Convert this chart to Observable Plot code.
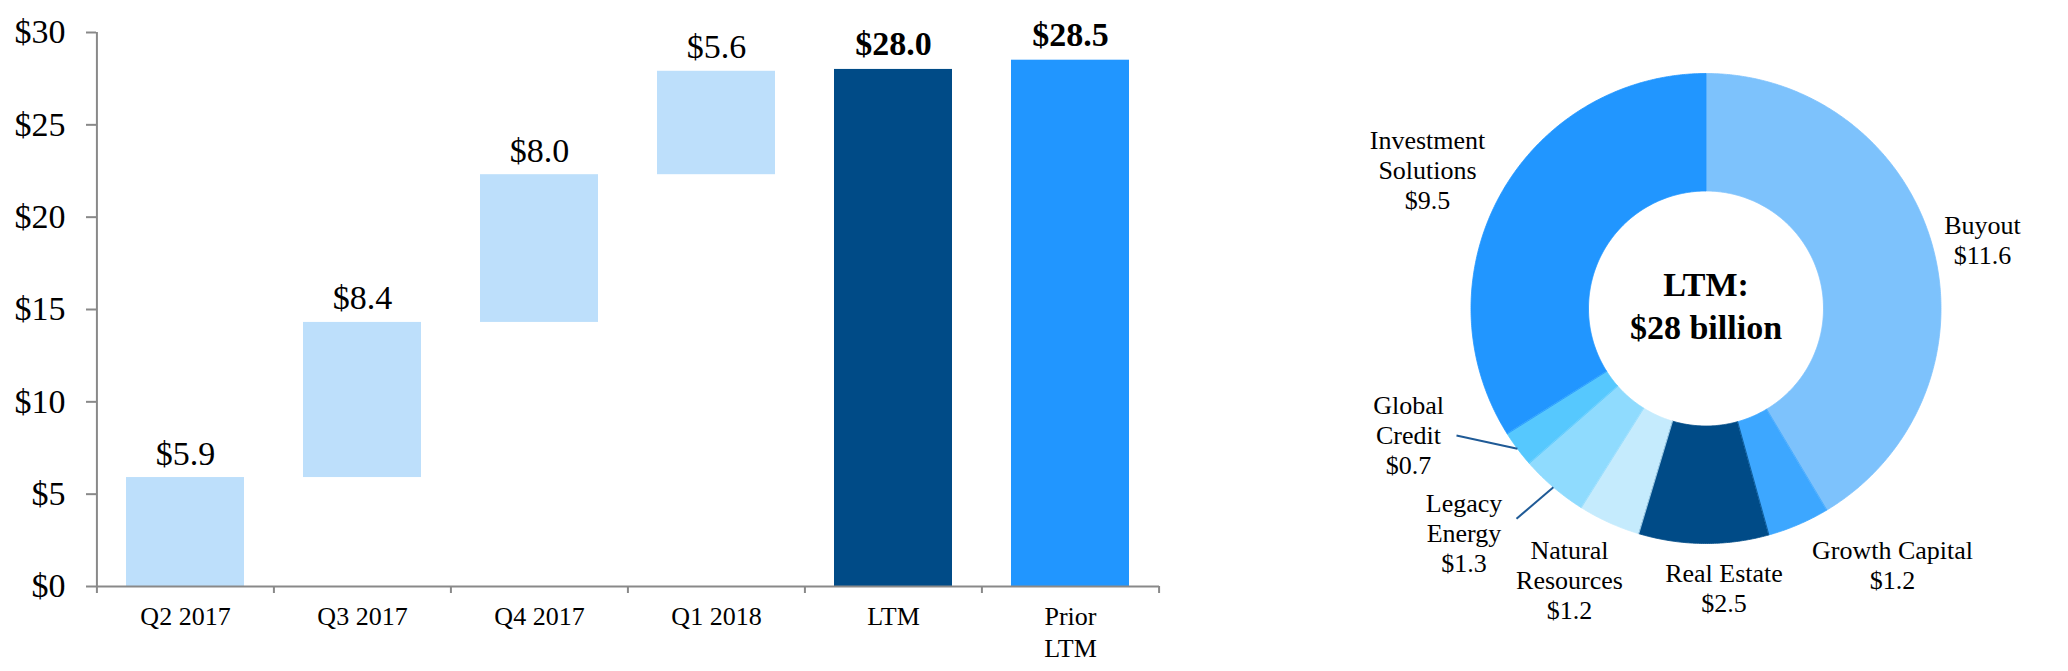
<!DOCTYPE html>
<html><head><meta charset="utf-8">
<script src="https://cdn.jsdelivr.net/npm/d3@7"></script>
<script src="https://cdn.jsdelivr.net/npm/@observablehq/plot@0.6"></script>
<style>
body{margin:0;background:#fff;}
#wrap{display:flex;width:2068px;height:671px;background:#fff;}
</style></head><body><div id="wrap"></div>
<script>
// ---------- data ----------
const categories = ["Q2 2017","Q3 2017","Q4 2017","Q1 2018","LTM","Prior LTM"];
const xTickLabels = ["Q2 2017","Q3 2017","Q4 2017","Q1 2018","LTM","Prior\nLTM"];
const quarterValues = [5.9, 8.4, 8.0, 5.6];
const totalValues = [28.0, 28.5];
const yTicks = [0, 5, 10, 15, 20, 25, 30];

const segments = ["Buyout","Growth Capital","Real Estate","Natural Resources","Legacy Energy","Global Credit","Investment Solutions"];
const segmentLabels = ["Buyout","Growth Capital","Real Estate","Natural\nResources","Legacy\nEnergy","Global\nCredit","Investment\nSolutions"];
const segmentValues = [11.6, 1.2, 2.5, 1.2, 1.3, 0.7, 9.5];
const centerText = ["LTM:", "$28 billion"];

// ---------- styles / layout ----------
const FONT = '"Liberation Serif","Times New Roman",serif';
const barColors = ["#BDDFFB","#BDDFFB","#BDDFFB","#BDDFFB","#004B87","#2196FF"];
const segmentColors = ["#7DC2FC","#3DA7FF","#004B87","#C5EBFD","#8FDBFE","#56C8FE","#2196FF"];
const axisGray = "#898989";
// label anchor (center x, first baseline) relative to donut centre, px
const labelLayout = [[276.5,-74.7],[186.5,250.3],[18,273.7],[-136.5,250.3],[-242,203.7],[-297.5,105.3],[-278.5,-159.7]];
// leader line starting points (relative), null = none
const leaderStart = [null,null,null,null,[-189.5,210.3],[-249.5,127],null];

// ---------- waterfall ----------
const W1 = 1200, H = 671, mL = 96, mR = 41, mT = 32, mB = 85;
const step = (W1 - mL - mR) / categories.length;
let cum = 0;
const bars = categories.map((c, i) => {
  if (i < quarterValues.length) {
    const y1 = cum; cum = +(cum + quarterValues[i]).toFixed(1);
    return {cat: c, y1, y2: cum, value: quarterValues[i], total: false};
  }
  const v = totalValues[i - quarterValues.length];
  return {cat: c, y1: 0, y2: v, value: v, total: true};
});
const xl = categories.map((c, i) => ({cat: c, lines: xTickLabels[i].split("\n")}));
const base = categories.map(c => ({cat: c, y: 0}));

const bar = Plot.plot({
  width: W1, height: H,
  marginLeft: mL, marginRight: mR, marginTop: mT, marginBottom: mB,
  style: {fontFamily: FONT, background: "#fff", overflow: "visible"},
  x: {type: "band", domain: categories, paddingInner: 0.334, paddingOuter: 0.167, axis: null},
  y: {domain: [0, 30], axis: null},
  color: {domain: categories, range: barColors},
  marks: [
    Plot.barY(bars, {x: "cat", y1: "y1", y2: "y2", fill: "cat"}),
    Plot.axisY(yTicks, {tickSize: 10, tickPadding: 21, tickFormat: d => "$" + d, stroke: axisGray, strokeWidth: 2, fill: "black", fontSize: 34}),
    Plot.ruleY([0], {stroke: axisGray, strokeWidth: 2}),
    Plot.ruleX([{cat: categories[0], y1: 0, y2: 30}], {x: "cat", y1: "y1", y2: "y2", dx: -step / 2, stroke: axisGray, strokeWidth: 2}),
    Plot.ruleX(base, {x: "cat", y1: "y", y2: "y", insetBottom: -7, dx: -step / 2, stroke: axisGray, strokeWidth: 2}),
    Plot.ruleX(base.slice(-1), {x: "cat", y1: "y", y2: "y", insetBottom: -7, dx: step / 2, stroke: axisGray, strokeWidth: 2}),
    Plot.text(bars.filter(d => !d.total), {x: "cat", y: "y2", text: d => "$" + d.value.toFixed(1), lineAnchor: "bottom", dy: -13, fontSize: 34, fill: "black"}),
    Plot.text(bars.filter(d => d.total), {x: "cat", y: "y2", text: d => "$" + d.value.toFixed(1), lineAnchor: "bottom", dy: -14, fontSize: 34, fontWeight: "bold", fill: "black"}),
    Plot.text(xl, {x: "cat", y: () => 0, text: d => d.lines[0], lineAnchor: "bottom", dy: 38.6, fontSize: 26, fill: "black"}),
    Plot.text(xl.filter(d => d.lines.length > 1), {x: "cat", y: () => 0, text: d => d.lines[1], lineAnchor: "bottom", dy: 70.3, fontSize: 26, fill: "black"})
  ]
});

// ---------- donut ----------
const W2 = 2068 - W1, cx = 505.5, cy = 308, R = 235, r = 117.5;
const pie = d3.pie().sort(null).value(d => d)(segmentValues);
const pts = [];
pie.forEach((p, i) => {
  const n = Math.max(2, Math.ceil((p.endAngle - p.startAngle) / (Math.PI / 360)));
  for (let k = 0; k <= n; k++) {
    const a = p.startAngle + (p.endAngle - p.startAngle) * k / n;
    pts.push({name: segments[i], x: R * Math.sin(a), y: -R * Math.cos(a)});
  }
  for (let k = n; k >= 0; k--) {
    const a = p.startAngle + (p.endAngle - p.startAngle) * k / n;
    pts.push({name: segments[i], x: r * Math.sin(a), y: -r * Math.cos(a)});
  }
});
const labelRows = [];
segments.forEach((s, i) => {
  const lines = segmentLabels[i].split("\n").concat(["$" + segmentValues[i].toFixed(1)]);
  lines.forEach((t, j) => labelRows.push({x: labelLayout[i][0], y: labelLayout[i][1] + j * 30, text: t}));
});
const leaders = [];
pie.forEach((p, i) => {
  if (!leaderStart[i]) return;
  const a = (p.startAngle + p.endAngle) / 2;
  leaders.push({x1: leaderStart[i][0], y1: leaderStart[i][1], x2: R * Math.sin(a), y2: -R * Math.cos(a)});
});

const donut = Plot.plot({
  width: W2, height: H, margin: 0,
  style: {fontFamily: FONT, background: "#fff", overflow: "visible"},
  x: {domain: [-cx, W2 - cx], range: [0, W2], axis: null},
  y: {domain: [-cy, H - cy], range: [0, H], axis: null},
  color: {domain: segments, range: segmentColors},
  marks: [
    Plot.line(pts, {x: "x", y: "y", z: "name", fill: "name", stroke: "name", strokeWidth: 0.8, curve: "linear-closed"}),
    Plot.link(leaders, {x1: "x1", y1: "y1", x2: "x2", y2: "y2", stroke: "#1F5A96", strokeWidth: 2}),
    Plot.text(labelRows, {x: "x", y: "y", text: "text", lineAnchor: "bottom", fontSize: 26, fill: "black"}),
    Plot.text([centerText[0]], {x: () => 0, y: () => 0, text: d => d, lineAnchor: "bottom", dy: -12.3, fontSize: 34, fontWeight: "bold", fill: "black"}),
    Plot.text([centerText[1]], {x: () => 0, y: () => 0, text: d => d, lineAnchor: "bottom", dy: 30.3, fontSize: 34, fontWeight: "bold", fill: "black"})
  ]
});

const wrap = document.getElementById("wrap");
wrap.appendChild(bar);
wrap.appendChild(donut);
</script></body></html>
